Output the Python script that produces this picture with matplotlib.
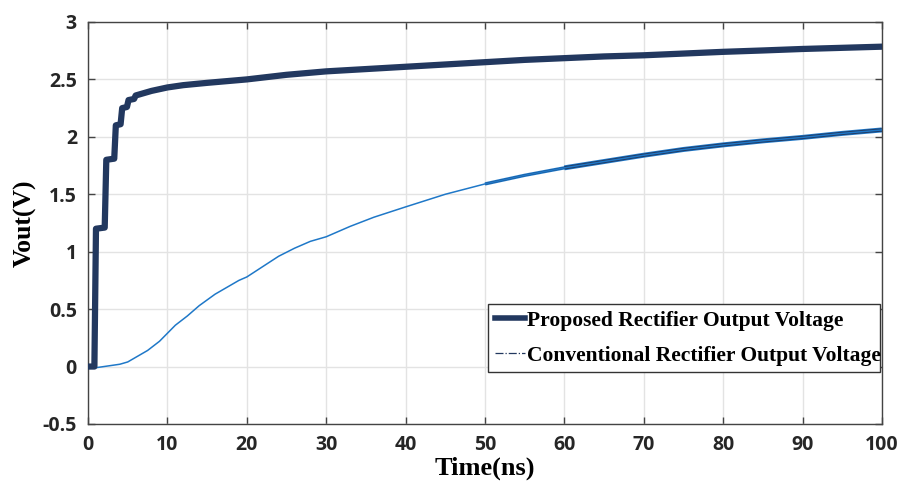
import matplotlib
import matplotlib.pyplot as plt

matplotlib.use("agg")

# Proposed rectifier: staircase charge-up, then slow rise
t_prop = [0, 0.8, 0.9, 1.0, 2.1, 2.3, 3.3, 3.5, 4.1, 4.3, 4.9, 5.1, 5.8, 6.0,
          6.5, 7, 8, 10, 12, 15, 20, 25, 30, 35, 40, 45, 50, 55, 60, 65,
          70, 75, 80, 85, 90, 95, 100]
v_prop = [0, 0, 0.6, 1.2, 1.21, 1.8, 1.81, 2.1, 2.11, 2.25, 2.26, 2.32, 2.33, 2.36,
          2.37, 2.38, 2.40, 2.43, 2.45, 2.47, 2.50, 2.54, 2.57, 2.59, 2.61, 2.63,
          2.65, 2.67, 2.685, 2.70, 2.71, 2.725, 2.74, 2.752, 2.765, 2.775, 2.785]

# Conventional rectifier: slow RC-like rise
t_conv = [0, 1, 2.5, 4, 5, 6, 7.5, 9, 10, 11, 12.5, 14, 15, 16, 17.5, 19, 20,
          22, 24, 26, 28, 30, 33, 36, 40, 45, 50, 55, 60, 65, 70, 75, 80, 85,
          90, 95, 100]
v_conv = [0, -0.01, 0.005, 0.02, 0.04, 0.08, 0.14, 0.22, 0.29, 0.36, 0.44, 0.53,
          0.58, 0.63, 0.69, 0.75, 0.78, 0.87, 0.96, 1.03, 1.09, 1.13, 1.22, 1.30,
          1.39, 1.50, 1.59, 1.665, 1.73, 1.785, 1.84, 1.89, 1.93, 1.965, 1.995,
          2.03, 2.06]

x_ticks = list(range(0, 101, 10))
y_ticks = [-0.5, 0, 0.5, 1, 1.5, 2, 2.5, 3]

navy = "#22385f"
blue = "#1f78c8"

fig = plt.figure(figsize=(9.03, 4.83), dpi=100)
ax = fig.add_axes([0.0975, 0.1222, 0.8792, 0.8323])

# dense overlapping trace in the later part of the conventional curve,
# thickening gradually from ~50 ns
mid_t = [t for t in t_conv if 50 <= t <= 65]
mid_v = [v for t, v in zip(t_conv, v_conv) if 50 <= t <= 65]
tail_t = [t for t in t_conv if t >= 60]
tail_v = [v for t, v in zip(t_conv, v_conv) if t >= 60]
ax.plot(mid_t, mid_v, color=blue, lw=2.4, solid_capstyle="butt", zorder=2)
ax.plot(mid_t, mid_v, color=navy, lw=1.2, solid_capstyle="butt", zorder=2)
ax.plot(tail_t, tail_v, color=blue, lw=3.6, solid_capstyle="butt", zorder=2)
ax.plot(tail_t, tail_v, color=navy, lw=2.4, solid_capstyle="butt", zorder=2)
ax.plot(t_conv, v_conv, color=blue, lw=1.1, zorder=3)
ax.plot(t_prop, v_prop, color=navy, lw=4.5, solid_capstyle="round",
        solid_joinstyle="round", zorder=4)

ax.set_xlim(0, 100)
ax.set_ylim(-0.5, 3)
ax.set_xticks(x_ticks)
ax.set_yticks(y_ticks)
ax.set_xticklabels([str(x) for x in x_ticks])
ax.set_yticklabels(["-0.5", "0", "0.5", "1", "1.5", "2", "2.5", "3"])
ax.grid(True, color="#e3e3e3", lw=1.0)
ax.set_axisbelow(True)

ax.tick_params(direction="in", length=5, width=1, colors="#444444",
               top=True, right=True, labelsize=14, pad=8)
for lab in ax.get_xticklabels() + ax.get_yticklabels():
    lab.set_fontweight("bold")
    lab.set_fontfamily("Open Sans")
    lab.set_color("#262626")

for s in ax.spines.values():
    s.set_color("#444444")
    s.set_linewidth(1.0)

ax.set_xlabel("Time(ns)", family="Liberation Serif", weight="bold", size=19,
              labelpad=1)
ax.set_ylabel("Vout(V)", family="Liberation Serif", weight="bold", size=18.5,
              labelpad=4)

h1, = ax.plot([], [], color=navy, lw=4)
h2, = ax.plot([], [], color=navy, lw=0.9, ls="-.")
leg = ax.legend([h1, h2], ["Proposed Rectifier Output Voltage",
                           "Conventional Rectifier Output Voltage"],
                loc="lower left", bbox_to_anchor=(0.504, 0.129, 0.493, 0.184),
                mode="expand", borderaxespad=0, fancybox=False, framealpha=1,
                handlelength=1.4, handletextpad=0.1, labelspacing=0.7,
                borderpad=0.3,
                prop={"family": "Liberation Serif", "weight": "bold", "size": 15.5})
leg.get_frame().set_edgecolor("#333333")
leg.get_frame().set_linewidth(1.0)

fig.savefig("out.png", dpi=100)
